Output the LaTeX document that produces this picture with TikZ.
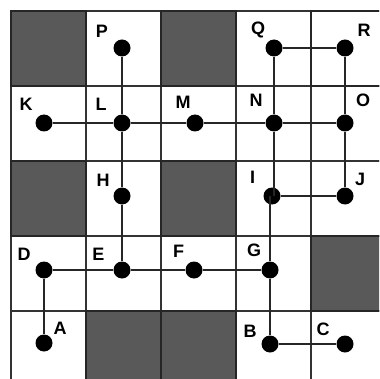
\documentclass[tikz,border=0pt]{standalone}
\usepackage{fontspec}
\setmainfont{Liberation Sans}
\begin{document}
\begin{tikzpicture}[x=1pt,y=-1pt,
  cellbox/.style={draw=black!80, line width=1.3pt, fill=white},
  darkcell/.style={draw=black!85, line width=1.3pt, fill=black!65},
  dot/.style={circle, fill=black, minimum size=17pt, inner sep=0pt},
  lbl/.style={font=\fontsize{18}{18}\selectfont\bfseries, inner sep=0pt, text=black},
  conn/.style={draw=black!85, line width=1.3pt}]
\useasboundingbox (0,0) rectangle (379,379);
\clip (0,0) rectangle (379,379);
% grid cells
\foreach \cc in {0,...,4}{
  \foreach \rr in {0,...,4}{
    \draw[cellbox] ({11+75*\cc},{11+75*\rr}) rectangle ++(75,75);
  }
}
\foreach \cc/\rr in {0/0,2/0,0/2,2/2,4/3,1/4,2/4}{
  \draw[darkcell] ({11+75*\cc},{11+75*\rr}) rectangle ++(75,75);
}
\draw[black!85, line width=2pt] (311,11) rectangle (386,86);
% dots
\node[dot] (P) at (122,48) {};
\node[dot] (Q) at (274,48) {};
\node[dot] (R) at (345,48) {};
\node[dot] (K) at (44,123) {};
\node[dot] (L) at (122,123) {};
\node[dot] (M) at (195,123) {};
\node[dot] (N) at (274,123) {};
\node[dot] (O) at (345,123) {};
\node[dot] (H) at (122,196) {};
\node[dot] (I) at (272,196) {};
\node[dot] (J) at (345,196) {};
\node[dot] (D) at (44,270) {};
\node[dot] (E) at (122,270) {};
\node[dot] (F) at (194,270) {};
\node[dot] (G) at (270,270) {};
\node[dot] (A) at (44,343) {};
\node[dot] (B) at (270,344) {};
\node[dot] (C) at (345,344) {};
% connectors
\foreach \u/\v in {P/L,L/H,H/E,K/L,L/M,M/N,N/O,Q/R,Q/N,R/O,O/J,I/J,D/E,E/F,F/G,G/B,B/C,D/A}{
  \draw[conn] (\u) -- (\v);
}
\draw[conn] (N) -- (N |- I);
\draw[conn] (G) -- (G |- I);
% labels
\node[lbl] (lP) at (102,31) {P};
\node[lbl] (lQ) at (258,30) {Q};
\node[lbl] (lR) at (364,30) {R};
\node[lbl] (lK) at (26,104) {K};
\node[lbl] (lL) at (101,104) {L};
\node[lbl] (lM) at (183,102) {M};
\node[lbl] (lN) at (256,100) {N};
\node[lbl] (lO) at (363,100) {O};
\node[lbl] (lH) at (103,180) {H};
\node[lbl] (lI) at (252.5,177) {I};
\node[lbl] (lJ) at (360,179) {J};
\node[lbl] (lD) at (24,254) {D};
\node[lbl] (lE) at (98.5,254) {E};
\node[lbl] (lF) at (178.5,251) {F};
\node[lbl] (lG) at (254,250) {G};
\node[lbl] (lA) at (60,328) {A};
\node[lbl] (lB) at (250,331) {B};
\node[lbl] (lC) at (323,329) {C};
\end{tikzpicture}
\end{document}
